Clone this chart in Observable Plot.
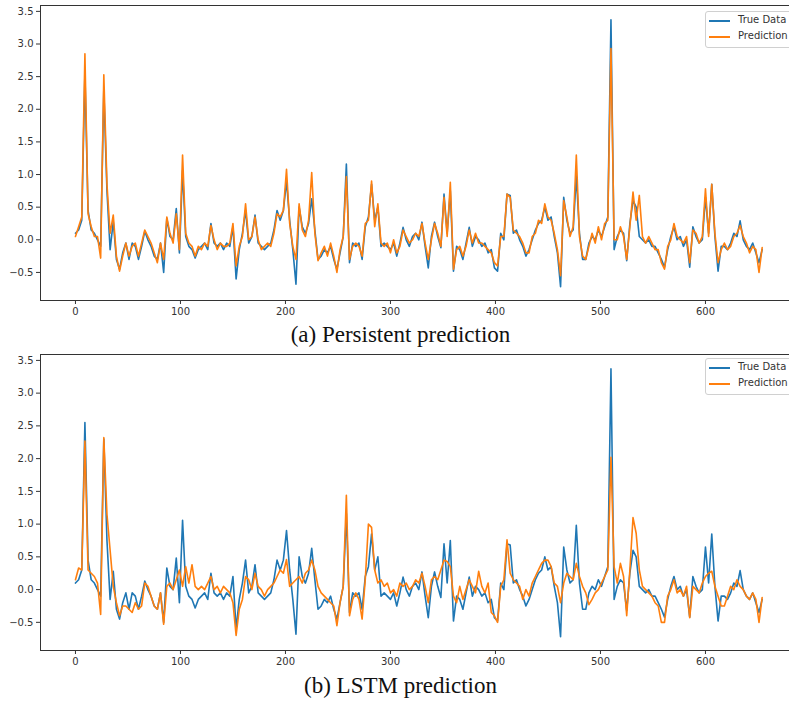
<!DOCTYPE html>
<html>
<head>
<meta charset="utf-8">
<script src="https://cdn.jsdelivr.net/npm/d3@7"></script>
<script src="https://cdn.jsdelivr.net/npm/@observablehq/plot@0.6"></script>
<style>
  html, body { margin: 0; padding: 0; background: white; overflow: hidden; }
  #wrap { position: relative; width: 789px; height: 701px; overflow: hidden; background: white; }
  .panel { position: absolute; left: 0; }
  .caption { position: absolute; left: 0; width: 789px; padding-left: 12px; box-sizing: border-box;
             text-align: center; font-family: "Liberation Serif", "DejaVu Serif", serif; font-size: 23px;
             line-height: 23px; color: #111; white-space: nowrap; }
  .legend { position: absolute; left: 705px; width: 110px; height: 35px; border: 1px solid #d0d0d0;
            border-radius: 3px; background: rgba(255,255,255,0.85); font-family: "DejaVu Sans", sans-serif;
            font-size: 10px; color: #333; }
  .entry { position: absolute; left: 2px; height: 12px; }
  .swatch { position: absolute; left: 1px; top: 5px; width: 21px; height: 2px; }
  .label { position: absolute; left: 30px; top: -1px; line-height: 12px; white-space: nowrap; }
</style>
</head>
<body>
<div id="wrap"></div>
<script>
// ---------- data (sampled every 3 time steps) ----------
const step = 3;
const xTicks = [0, 100, 200, 300, 400, 500, 600];
const yTicks = [-0.5, 0.0, 0.5, 1.0, 1.5, 2.0, 2.5, 3.0, 3.5];
const seriesNames = ["True Data", "Prediction"];
const captions = ["(a) Persistent prediction", "(b) LSTM prediction"];

const trueData = [
  0.10, 0.15, 0.30, 2.55, 0.45, 0.15, 0.10, 0.00, -0.10, 2.30,
  0.75, -0.15, 0.28, -0.30, -0.45, -0.20, -0.05, -0.30, -0.05, -0.10,
  -0.30, -0.10, 0.13, 0.00, -0.10, -0.25, -0.30, -0.05, -0.50, 0.33,
  0.05, 0.00, 0.48, -0.20, 1.06, 0.05, -0.10, -0.15, -0.28, -0.15,
  -0.10, -0.05, -0.15, 0.25, -0.05, -0.10, -0.05, -0.15, -0.05, -0.10,
  0.20, -0.60, -0.15, 0.10, 0.45, -0.05, 0.05, 0.38, -0.05, -0.10,
  -0.15, -0.10, -0.05, 0.15, 0.45, 0.30, 0.45, 0.90, 0.30, -0.15,
  -0.68, 0.50, 0.20, 0.10, 0.25, 0.63, 0.15, -0.30, -0.25, -0.15,
  -0.20, -0.10, -0.30, -0.45, -0.20, 0.05, 1.16, -0.35, -0.05, -0.10,
  -0.05, -0.30, 0.20, 0.35, 0.85, 0.30, 0.50, -0.10, -0.05, -0.10,
  -0.15, -0.05, -0.25, -0.05, 0.19, 0.00, -0.10, 0.05, 0.10, 0.00,
  0.27, -0.10, -0.43, 0.05, 0.27, 0.05, -0.12, 0.70, 0.10, 0.75,
  -0.48, -0.10, -0.15, -0.30, -0.05, 0.19, -0.10, 0.05, 0.00, -0.10,
  -0.05, -0.20, -0.15, -0.43, -0.48, 0.10, 0.00, 0.70, 0.68, 0.10,
  0.15, 0.00, -0.10, -0.25, -0.15, 0.00, 0.15, 0.25, 0.30, 0.50,
  0.30, 0.35, 0.05, -0.20, -0.72, 0.65, 0.30, 0.10, 0.15, 0.98,
  0.10, -0.30, -0.30, -0.05, 0.05, 0.00, 0.15, 0.05, 0.20, 0.35,
  3.37, -0.15, 0.05, 0.15, 0.10, -0.32, 0.25, 0.60, 0.50, 0.05,
  0.00, -0.05, 0.00, -0.10, -0.10, -0.20, -0.30, -0.42, -0.15, 0.05,
  0.20, 0.00, 0.05, -0.10, 0.00, -0.42, 0.20, 0.05, -0.05, 0.00,
  0.65, 0.10, 0.85, 0.05, -0.48, -0.10, -0.10, -0.15, -0.05, 0.10,
  0.05, 0.29, 0.00, -0.10, -0.15, -0.05, -0.20, -0.35, -0.15
];

const persistentPred = [
  0.05, 0.20, 0.35, 2.85, 0.40, 0.20, 0.05, 0.05, -0.28, 2.53,
  0.85, 0.10, 0.38, -0.25, -0.48, -0.25, -0.05, -0.25, -0.10, -0.05,
  -0.25, -0.05, 0.15, 0.05, -0.05, -0.20, -0.35, -0.05, -0.30, 0.35,
  0.10, -0.05, 0.40, -0.15, 1.30, 0.10, -0.05, -0.10, -0.25, -0.10,
  -0.15, -0.05, -0.10, 0.22, 0.00, -0.15, -0.05, -0.10, -0.10, -0.05,
  0.25, -0.40, -0.10, 0.05, 0.55, 0.00, 0.05, 0.35, 0.00, -0.15,
  -0.10, -0.05, -0.10, 0.10, 0.40, 0.35, 0.45, 1.08, 0.25, -0.10,
  -0.30, 0.55, 0.15, 0.05, 0.30, 1.03, 0.10, -0.32, -0.20, -0.10,
  -0.25, -0.05, -0.25, -0.50, -0.15, 0.05, 0.97, -0.30, -0.10, -0.05,
  -0.10, -0.25, 0.25, 0.30, 0.90, 0.20, 0.55, -0.05, -0.10, -0.05,
  -0.20, 0.00, -0.20, -0.10, 0.15, 0.05, -0.05, 0.00, 0.10, 0.05,
  0.25, -0.05, -0.30, 0.00, 0.25, 0.10, -0.10, 0.65, 0.05, 0.88,
  -0.45, -0.15, -0.10, -0.25, -0.10, 0.15, -0.05, 0.10, -0.05, -0.05,
  -0.10, -0.15, -0.20, -0.35, -0.40, 0.05, 0.05, 0.70, 0.65, 0.15,
  0.10, 0.05, -0.05, -0.20, -0.20, 0.05, 0.10, 0.30, 0.25, 0.55,
  0.35, 0.30, 0.10, -0.15, -0.55, 0.60, 0.35, 0.05, 0.20, 1.30,
  0.05, -0.25, -0.30, -0.10, 0.10, -0.05, 0.20, 0.00, 0.25, 0.30,
  2.93, 0.00, 0.00, 0.20, 0.05, -0.30, 0.20, 0.73, 0.30, 0.68,
  0.05, -0.05, 0.05, -0.05, -0.15, -0.15, -0.35, -0.45, -0.10, 0.00,
  0.25, 0.05, 0.00, -0.05, 0.05, -0.35, 0.15, 0.10, -0.05, 0.05,
  0.78, 0.05, 0.85, 0.10, -0.35, -0.15, -0.05, -0.15, -0.10, 0.05,
  0.10, 0.22, 0.05, -0.05, -0.20, -0.10, -0.15, -0.50, -0.12
];

const lstmPred = [
  0.15, 0.33, 0.30, 2.27, 0.30, 0.25, 0.20, 0.10, -0.38, 2.32,
  1.15, 0.60, 0.05, -0.20, -0.40, -0.25, -0.25, -0.30, -0.35, -0.20,
  -0.30, -0.25, 0.10, 0.05, -0.10, -0.25, -0.30, -0.05, -0.53, 0.05,
  0.10, 0.00, 0.15, 0.30, 0.05, 0.35, 0.10, 0.38, 0.05, 0.00,
  0.05, 0.00, 0.10, 0.20, 0.00, 0.05, -0.05, 0.05, 0.00, -0.05,
  -0.20, -0.70, -0.30, -0.15, 0.20, 0.15, 0.00, 0.25, 0.05, 0.00,
  -0.10, 0.00, 0.05, 0.10, 0.20, 0.30, 0.25, 0.46, 0.05, 0.10,
  0.15, 0.20, 0.10, 0.25, 0.30, 0.45, 0.30, 0.05, -0.05, -0.10,
  -0.15, -0.20, -0.25, -0.55, -0.20, 0.05, 1.44, -0.40, -0.15, -0.05,
  -0.15, -0.45, 0.15, 1.00, 0.95, 0.30, 0.10, 0.15, 0.05, 0.10,
  -0.05, 0.00, -0.10, 0.10, 0.05, 0.10, 0.00, 0.05, 0.15, 0.10,
  0.25, 0.05, -0.20, 0.15, 0.20, 0.15, 0.30, 0.45, 0.43, 0.35,
  -0.10, -0.20, 0.05, -0.15, 0.00, 0.15, 0.05, -0.05, 0.28, 0.05,
  -0.05, 0.10, -0.35, -0.40, -0.50, 0.05, 0.15, 0.76, 0.25, 0.15,
  0.10, 0.05, -0.15, 0.00, -0.10, 0.10, 0.20, 0.30, 0.40, 0.45,
  0.45, 0.35, 0.10, 0.05, -0.20, 0.10, 0.25, 0.20, 0.15, 0.40,
  0.20, 0.05, -0.05, -0.23, -0.15, -0.05, 0.00, 0.10, 0.20, 0.30,
  2.02, 0.35, 0.10, 0.40, 0.20, -0.40, 0.30, 1.10, 0.86, 0.30,
  0.05, 0.00, -0.05, -0.10, -0.20, -0.25, -0.50, -0.50, -0.10, 0.00,
  0.15, -0.05, 0.00, -0.10, 0.05, -0.43, 0.05, 0.00, -0.05, 0.10,
  0.20, 0.25, 0.28, 0.05, -0.10, -0.25, -0.25, -0.10, 0.05, 0.00,
  0.15, 0.05, 0.00, -0.10, -0.15, -0.05, -0.15, -0.50, -0.12
];

// ---------- drawing ----------
const blue = "#1f77b4", orange = "#ff7f0e";
const toRows = arr => arr.map((v, i) => ({t: i * step, value: v}));

function panel(pred, marginBottom) {
  return Plot.plot({
    width: 796,
    height: 320,
    marginLeft: 40,
    marginRight: 0,
    marginTop: 5,
    marginBottom,
    style: {fontFamily: "DejaVu Sans, sans-serif", fontSize: "10px", color: "#333",
            background: "white", maxWidth: "none"},
    x: {domain: [-33.3, 686.7], ticks: xTicks, tickSize: 4, tickPadding: 3, label: null},
    y: {domain: [-0.93, 3.59], ticks: yTicks, tickFormat: d3.format(".1f"), tickSize: 4, tickPadding: 3, label: null},
    marks: [
      Plot.line(toRows(trueData), {x: "t", y: "value", stroke: blue, strokeWidth: 1.6}),
      Plot.line(toRows(pred), {x: "t", y: "value", stroke: orange, strokeWidth: 1.6}),
      Plot.frame({stroke: "#333"})
    ]
  });
}

function legend(top) {
  const box = document.createElement("div");
  box.className = "legend";
  box.style.top = top + "px";
  [blue, orange].forEach((c, i) => {
    const e = document.createElement("div");
    e.className = "entry";
    e.style.top = (3 + i * 16) + "px";
    const s = document.createElement("div");
    s.className = "swatch";
    s.style.background = c;
    const l = document.createElement("div");
    l.className = "label";
    l.textContent = seriesNames[i];
    e.appendChild(s); e.appendChild(l);
    box.appendChild(e);
  });
  return box;
}

const wrap = document.getElementById("wrap");
const pa = panel(persistentPred, 20);
pa.classList.add("panel"); pa.style.top = "0px"; pa.style.position = "absolute";
wrap.appendChild(pa);
const pb = panel(lstmPred, 19);
pb.classList.add("panel"); pb.style.top = "349px"; pb.style.position = "absolute";
wrap.appendChild(pb);

wrap.appendChild(legend(11));
wrap.appendChild(legend(358));

[[captions[0], 323], [captions[1], 674]].forEach(([t, top]) => {
  const d = document.createElement("div");
  d.className = "caption";
  d.style.top = top + "px";
  d.textContent = t;
  wrap.appendChild(d);
});
</script>
</body>
</html>
